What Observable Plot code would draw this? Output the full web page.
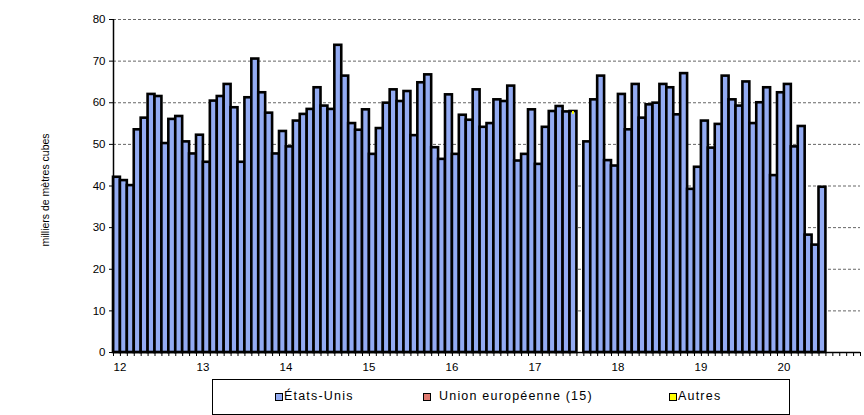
<!DOCTYPE html>
<html><head><meta charset="utf-8">
<script src="https://cdn.jsdelivr.net/npm/d3@7"></script>
<script src="https://cdn.jsdelivr.net/npm/@observablehq/plot@0.6"></script>
<style>
body{margin:0;background:#fff;font-family:"Liberation Sans",Arial,sans-serif;}
#wrap{position:relative;width:864px;height:415px;overflow:hidden;}
#legend{position:absolute;left:212px;top:379px;width:578px;height:36px;border:1px solid #000;box-sizing:border-box;}
.item{position:absolute;top:9px;font-size:12.5px;letter-spacing:1.2px;color:#000;white-space:nowrap;line-height:14px;}
.sw{position:absolute;top:4px;width:6px;height:6px;border:1px solid #000;}
</style></head>
<body><div id="wrap"><div id="chart"></div><div id="legend"></div></div>
<script>
// Years (tick labels)
const years = ["12","13","14","15","16","17","18","19","20"];
// Monthly values, États-Unis (milliers de mètres cubes)
const us2012 = [42.1,41.3,40.1,53.5,56.3,62.0,61.5,50.2,56.0,56.7,50.6,47.7];
const us2013 = [52.2,45.7,60.4,61.5,64.4,58.8,45.7,61.2,70.5,62.4,57.5,47.7];
const us2014 = [53.1,49.4,55.6,57.2,58.4,63.6,59.2,58.4,73.8,66.4,55.0,53.4];
const us2015 = [58.3,47.6,53.8,59.9,63.1,60.3,62.7,52.1,64.8,66.7,49.2,46.4];
const us2016 = [61.9,47.6,57.0,55.8,63.1,54.1,55.0,60.7,60.3,64.0,46.0,47.6];
const us2017 = [58.3,45.2,54.1,57.9,59.1,57.8,57.2,null,50.6,60.7,66.4,46.1];
const us2018 = [44.8,62.0,53.5,64.4,56.3,59.5,59.9,64.4,63.6,57.1,67.0,39.2];
const us2019 = [44.5,55.6,49.1,54.8,66.4,60.7,59.2,65.0,55.0,60.0,63.6,42.5];
const us2020 = [62.4,64.4,49.4,54.3,28.2,25.8,39.7];
// Union européenne (15): no visible values
const ue = [];
// Autres: only visible in July 2017
const autresMonth = ["2017-07"];
const autresValue = [0.7];

const seriesNames = ["États-Unis","Union européenne (15)","Autres"];
const seriesColors = ["#93abf2","#e07a70","#ffff00"];

const us = [...us2012,...us2013,...us2014,...us2015,...us2016,...us2017,...us2018,...us2019,...us2020];
const months = us.map((v,i)=>({i, key: `20${years[Math.floor(i/12)]}-${String(i%12+1).padStart(2,"0")}`, us: v, autres: 0}));
autresMonth.forEach((m,k)=>{const r = months.find(d=>d.key===m); r.autres = autresValue[k];});
const bars = months.filter(d=>d.us!=null);
const autres = months.filter(d=>d.autres>0);

const chart = Plot.plot({
  width: 864, height: 376,
  marginLeft: 113, marginRight: 4, marginTop: 19, marginBottom: 24,
  style: {fontFamily: "'Liberation Sans', Arial, sans-serif", fontSize: "11px", color: "#000", background: "#fff"},
  x: {type: "linear", domain: [0, 108], axis: null},
  y: {domain: [0, 80], axis: null},
  marks: [
    Plot.ruleY(d3.range(10, 90, 10), {stroke: "#666", strokeDasharray: "3,2", strokeWidth: 1}),
    Plot.rect(bars, {x1: d=>d.i, x2: d=>d.i+1, y1: 0, y2: d=>d.us + d.autres, fill: seriesColors[0], stroke: "#000", strokeWidth: 2.6}),
    Plot.rect(autres, {x1: d=>d.i, x2: d=>d.i+1, y1: d=>d.us, y2: d=>d.us + d.autres, fill: seriesColors[2], insetLeft: 2.5, insetRight: 2.5}),
    Plot.ruleX([0], {y1: 0, y2: 80, stroke: "#000", strokeWidth: 1.5}),
    Plot.ruleY([0], {stroke: "#000", strokeWidth: 1.5}),
    Plot.axisY({ticks: d3.range(0, 90, 10), tickSize: 4, tickPadding: 4, label: null, fontSize: 11.5}),
    Plot.axisX({ticks: d3.range(0, 109), tickSize: 4, tickFormat: () => "", label: null}),
    Plot.text(years, {x: (d,i)=>i*12+0.5, y: 0, dy: 15, dx: 3, fontSize: 11.5, clip: false}),
    Plot.text(["milliers de mètres cubes"], {frameAnchor: "left", dx: -68, dy: 4, rotate: -90, fontSize: 10.5, textAnchor: "middle"})
  ]
});
document.getElementById("chart").appendChild(chart);

// Legend
const legend = document.getElementById("legend");
const legendPos = [[62, 71], [210, 226], [456, 465]];
seriesNames.forEach((name, k)=>{
  const sw = document.createElement("div");
  sw.className = "sw";
  sw.style.left = legendPos[k][0] + "px";
  sw.style.top = "13px";
  sw.style.background = seriesColors[k];
  legend.appendChild(sw);
  const t = document.createElement("div");
  t.className = "item";
  t.style.left = legendPos[k][1] + "px";
  t.textContent = name;
  legend.appendChild(t);
});
</script></body></html>
